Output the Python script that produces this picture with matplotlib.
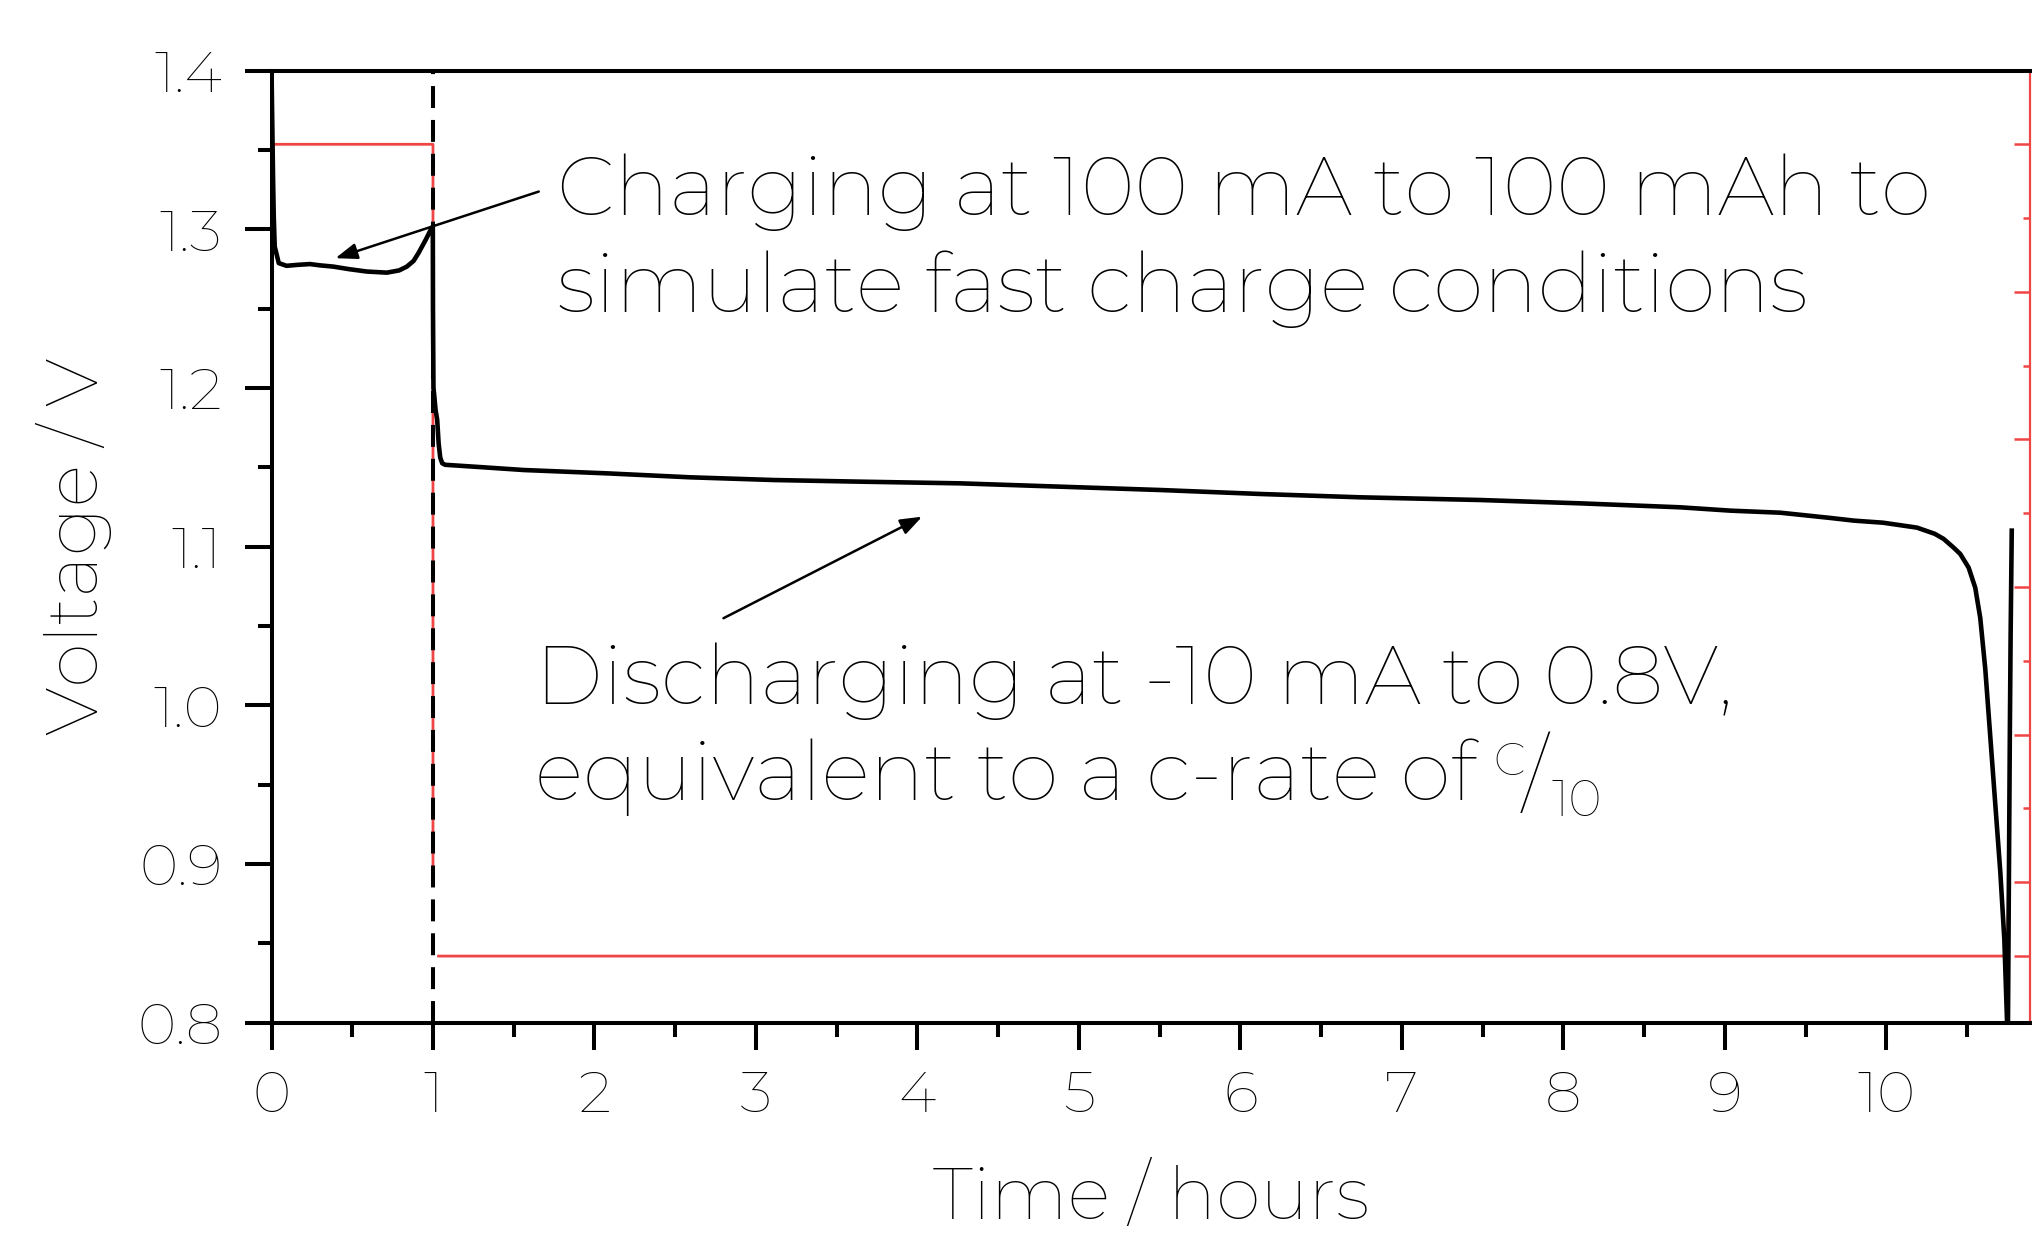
import numpy as np
import matplotlib
matplotlib.use("Agg")
import matplotlib.pyplot as plt
from matplotlib import font_manager as fm
from matplotlib.ticker import MultipleLocator, FormatStrFormatter

# ---------------- data ----------------
time_h = [0.000, 0.010, 0.014, 0.020, 0.045, 0.093, 0.160, 0.238, 0.300, 0.383,
          0.480, 0.590, 0.714, 0.790, 0.838, 0.880, 0.910, 0.955, 0.986, 0.999,
          1.000, 1.003, 1.008, 1.016, 1.026, 1.035, 1.045, 1.057, 1.075, 1.300,
          1.562, 2.078, 2.594, 3.110, 3.626, 4.266, 4.886, 5.505, 6.124, 6.743,
          7.486, 8.105, 8.724, 9.034, 9.344, 9.653, 9.800, 9.980, 10.190, 10.300,
          10.355, 10.420, 10.458, 10.510, 10.551, 10.582, 10.613, 10.644, 10.675, 10.706,
          10.731, 10.748, 10.753, 10.765, 10.770, 10.777]
voltage_V = [1.400, 1.330, 1.308, 1.289, 1.2786, 1.2769, 1.2775, 1.2780, 1.2772, 1.2764,
             1.2748, 1.2733, 1.2726, 1.2740, 1.2764, 1.2800, 1.2849, 1.2933, 1.2996, 1.3016,
             1.250, 1.200, 1.195, 1.186, 1.180, 1.165, 1.156, 1.1525, 1.1515, 1.1500,
             1.1482, 1.1461, 1.1436, 1.1419, 1.1409, 1.1398, 1.1377, 1.1356, 1.1331, 1.1310,
             1.1293, 1.1272, 1.1247, 1.1226, 1.1213, 1.1180, 1.1163, 1.1150, 1.1119, 1.1080,
             1.1048, 1.0990, 1.0953, 1.0867, 1.0740, 1.0549, 1.0228, 0.9802, 0.9376, 0.8950,
             0.8525, 0.8000, 0.7900, 0.9800, 1.0440, 1.1100]

current_time_h = [0.0, 1.0, 1.0, 1.012, np.nan, 1.026, 10.750, 10.757, 10.770]
current_mA = [100, 100, 0, 0, np.nan, -10, -10, 0, 0]

charge_end_h = 1.0

x_ticks = [0, 1, 2, 3, 4, 5, 6, 7, 8, 9, 10]
y_ticks = [0.8, 0.9, 1.0, 1.1, 1.2, 1.3, 1.4]
current_major_ticks = [100, 80, 60, 40, 20, 0, -10]
current_minor_ticks = [110, 90, 70, 50, 30, 10]

charge_label_lines = ["Charging at 100 mA to 100 mAh to",
                      "simulate fast charge conditions"]
discharge_label_lines = ["Discharging at -10 mA to 0.8V,",
                         "equivalent to a c-rate of"]
crate_num = "C"
crate_den = "10"

charge_arrow_tail = (1.655, 1.3237)
charge_arrow_head = (0.396, 1.2817)
discharge_arrow_tail = (2.799, 1.0548)
discharge_arrow_head = (4.029, 1.1188)

x_label = "Time / hours"
y_label = "Voltage / V"

# ---------------- font ----------------
def _w(e):
    w = e.weight
    if isinstance(w, str):
        w = fm.weight_dict.get(w, 400)
    return w

def pick_font():
    entries = fm.fontManager.ttflist
    for fam in ["Montserrat", "Raleway", "Inter", "Lato", "Roboto", "Open Sans", "Noto Sans"]:
        c = [e for e in entries if e.name == fam and e.style == "normal" and _w(e) <= 300]
        if c:
            return min(c, key=lambda e: abs(_w(e) - 200))
    return None

fe = pick_font()
if fe is not None:
    plt.rcParams["font.family"] = [fe.name, "DejaVu Sans"]
    plt.rcParams["font.weight"] = _w(fe)
    plt.rcParams["axes.labelweight"] = _w(fe)
else:
    plt.rcParams["font.family"] = ["DejaVu Sans"]
plt.rcParams["lines.scale_dashes"] = False

RED = "#F04545"
W, H = 2032, 1233
fig = plt.figure(figsize=(W / 100, H / 100), dpi=100)
ax_l, ax_r, ax_t, ax_b = 271.5, 2030.0, 70.5, 1022.5
ax = fig.add_axes([ax_l / W, 1 - ax_b / H, (ax_r - ax_l) / W, (ax_b - ax_t) / H])
ax2 = ax.twinx()
ax.set_zorder(ax2.get_zorder() + 1)
ax.patch.set_visible(False)

# current (secondary axis)
ax2.plot(current_time_h, current_mA, color=RED, lw=2.0, solid_capstyle="butt")
ax2.set_ylim(-19, 110)
ax2.set_yticks(current_major_ticks)
ax2.set_yticks(current_minor_ticks, minor=True)
ax2.tick_params(axis="y", which="major", direction="in", length=11.5, width=1.8,
                color=RED, labelright=False)
ax2.tick_params(axis="y", which="minor", direction="in", length=5, width=1.8,
                color=RED, labelright=False)
for s in ["left", "top", "bottom"]:
    ax2.spines[s].set_visible(False)
ax2.spines["right"].set_color(RED)
ax2.spines["right"].set_linewidth(1.6)

# voltage
ax.plot(time_h, voltage_V, color="black", lw=3.3, solid_joinstyle="round")
ax.axvline(charge_end_h, color="black", lw=2.9, dashes=(15.8, 8.6))
ax.set_xlim(0, 10.89)
ax.set_ylim(0.8, 1.4)
ax.set_xticks(x_ticks)
ax.set_yticks(y_ticks)
ax.xaxis.set_minor_locator(MultipleLocator(0.5))
ax.yaxis.set_minor_locator(MultipleLocator(0.05))
ax.yaxis.set_major_formatter(FormatStrFormatter("%.1f"))
ax.tick_params(axis="both", which="major", direction="out", length=19.4, width=2.9,
               labelsize=42, colors="black", right=False, top=False)
ax.tick_params(axis="x", which="major", pad=14)
ax.tick_params(axis="y", which="major", pad=16)
ax.tick_params(axis="both", which="minor", direction="out", length=10, width=2.9,
               right=False, top=False)
for s in ["left", "top", "bottom"]:
    ax.spines[s].set_linewidth(2.9)
    ax.spines[s].set_color("black")
ax.spines["right"].set_visible(False)

ax.set_xlabel(x_label, fontsize=52)
ax.set_ylabel(y_label, fontsize=52)
axw, axh = ax_r - ax_l, ax_b - ax_t
ax.xaxis.set_label_coords(0.5, (ax_b - 1219) / axh)
ax.xaxis.label.set_va("baseline")
ax.yaxis.set_label_coords((98 - ax_l) / axw, 0.5)
ax.yaxis.label.set_va("baseline")

# annotations
def fx(px):
    return (px - ax_l) / axw

def fy(py):
    return (ax_b - py) / axh

base_size = 56
t_c1 = ax.text(fx(557), fy(215), charge_label_lines[0], transform=ax.transAxes,
               fontsize=base_size, va="baseline", ha="left")
t_c2 = ax.text(fx(557), fy(311.7), charge_label_lines[1], transform=ax.transAxes,
               fontsize=base_size, va="baseline", ha="left")
t_d1 = ax.text(fx(535), fy(704), discharge_label_lines[0], transform=ax.transAxes,
               fontsize=base_size, va="baseline", ha="left")
t_d2 = ax.text(fx(535), fy(800), discharge_label_lines[1], transform=ax.transAxes,
               fontsize=base_size, va="baseline", ha="left")

fig.canvas.draw()
r = fig.canvas.get_renderer()
wmeas = t_c1.get_window_extent(r).width
scale = (1931 - 557) / wmeas
scale = min(max(scale, 0.8), 1.25)
main_size = base_size * scale
for t in (t_c1, t_c2, t_d1, t_d2):
    t.set_fontsize(main_size)
fig.canvas.draw()
r = fig.canvas.get_renderer()
x_end = t_d2.get_window_extent(r).x1
base_y_disp = ax.transAxes.transform((0, fy(800)))[1]
inv = ax.transAxes.inverted()

def put(txt, dx, dy, size):
    p = inv.transform((x_end + dx, base_y_disp + dy))
    ax.text(p[0], p[1], txt, transform=ax.transAxes, fontsize=size,
            va="baseline", ha="left")

put(crate_num, 17, 25, main_size * 0.55)
put("/", 46, -4, main_size * 1.05)
put(crate_den, 76, -16, main_size * 0.62)

arrow_style = "-|>,head_length=0.6,head_width=0.22"
for tail, head in [(charge_arrow_tail, charge_arrow_head),
                   (discharge_arrow_tail, discharge_arrow_head)]:
    ax.annotate("", xy=head, xytext=tail, xycoords="data", textcoords="data",
                arrowprops=dict(arrowstyle=arrow_style, lw=1.8, color="black",
                                mutation_scale=22, shrinkA=0, shrinkB=0))

fig.savefig("out.png", dpi=100)
